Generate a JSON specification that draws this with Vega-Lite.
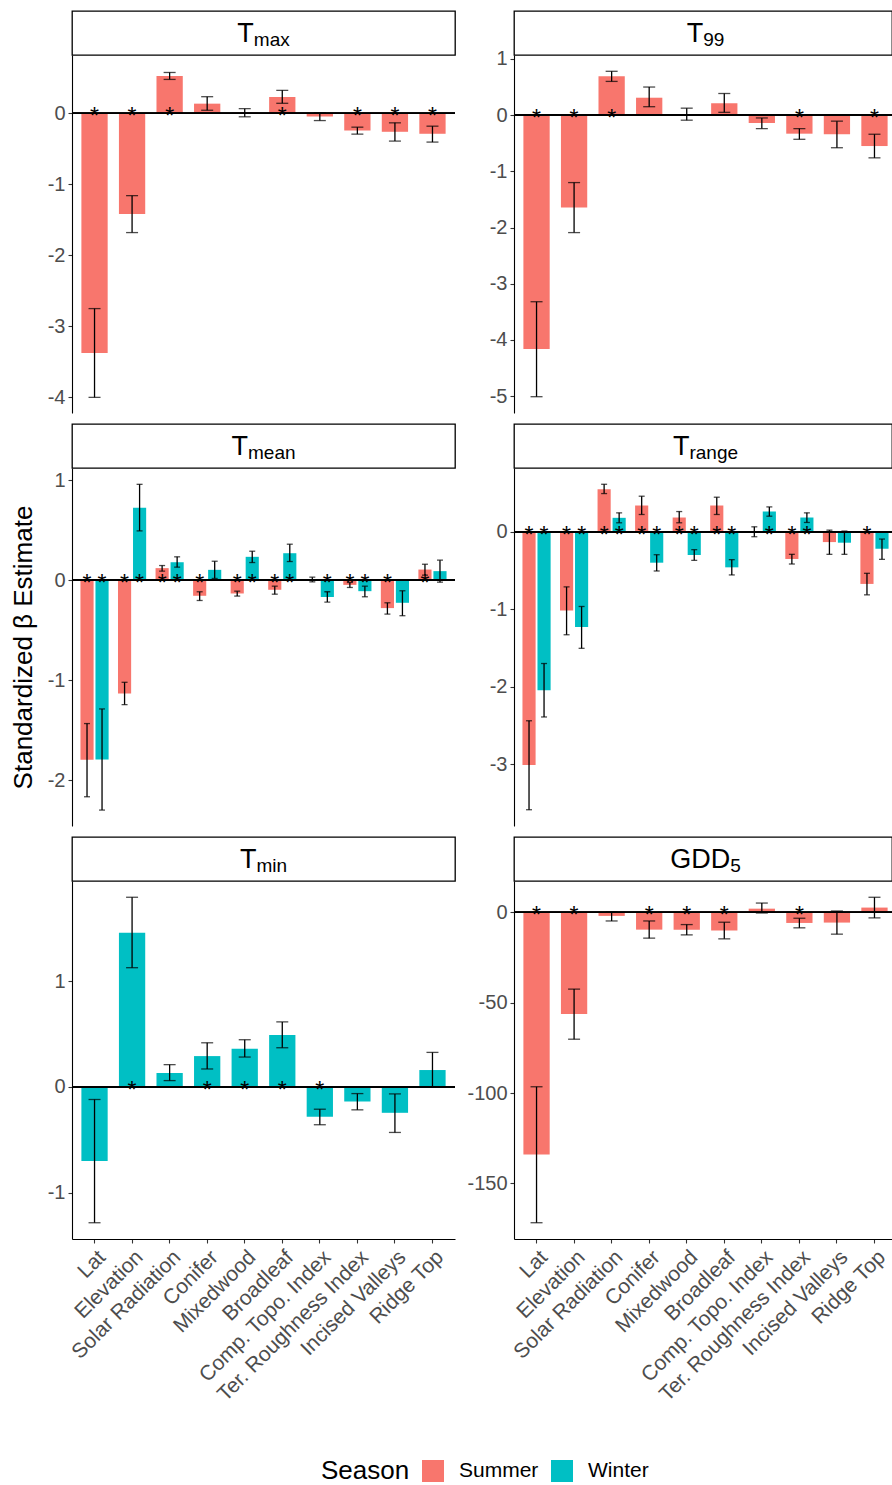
{
  "$schema": "https://vega.github.io/schema/vega-lite/v6.json",
  "background": "white",
  "padding": {"left": 10, "top": 10, "right": 0, "bottom": 2},
  "datasets": {
    "strips": [
      {"variable": "Tmax", "main": "T", "sub": "max"},
      {"variable": "T99", "main": "T", "sub": "99"},
      {"variable": "Tmean", "main": "T", "sub": "mean"},
      {"variable": "Trange", "main": "T", "sub": "range"},
      {"variable": "Tmin", "main": "T", "sub": "min"},
      {"variable": "GDD5", "main": "GDD", "sub": "5"}
    ],
    "est": [
      {"variable": "Tmax", "predictor": "Lat", "season": "Summer", "estimate": -3.375, "lower": -4.0, "upper": -2.75, "sig": "*"},
      {"variable": "Tmax", "predictor": "Elevation", "season": "Summer", "estimate": -1.42, "lower": -1.68, "upper": -1.16, "sig": "*"},
      {"variable": "Tmax", "predictor": "Solar Radiation", "season": "Summer", "estimate": 0.523, "lower": 0.476, "upper": 0.574, "sig": "*"},
      {"variable": "Tmax", "predictor": "Conifer", "season": "Summer", "estimate": 0.135, "lower": 0.042, "upper": 0.233, "sig": ""},
      {"variable": "Tmax", "predictor": "Mixedwood", "season": "Summer", "estimate": 0.01, "lower": -0.05, "upper": 0.065, "sig": ""},
      {"variable": "Tmax", "predictor": "Broadleaf", "season": "Summer", "estimate": 0.229, "lower": 0.14, "upper": 0.322, "sig": "*"},
      {"variable": "Tmax", "predictor": "Comp. Topo. Index", "season": "Summer", "estimate": -0.047, "lower": -0.103, "upper": 0.005, "sig": ""},
      {"variable": "Tmax", "predictor": "Ter. Roughness Index", "season": "Summer", "estimate": -0.243, "lower": -0.294, "upper": -0.196, "sig": "*"},
      {"variable": "Tmax", "predictor": "Incised Valleys", "season": "Summer", "estimate": -0.261, "lower": -0.392, "upper": -0.135, "sig": "*"},
      {"variable": "Tmax", "predictor": "Ridge Top", "season": "Summer", "estimate": -0.289, "lower": -0.406, "upper": -0.182, "sig": "*"},

      {"variable": "T99", "predictor": "Lat", "season": "Summer", "estimate": -4.16, "lower": -5.01, "upper": -3.32, "sig": "*"},
      {"variable": "T99", "predictor": "Elevation", "season": "Summer", "estimate": -1.645, "lower": -2.09, "upper": -1.2, "sig": "*"},
      {"variable": "T99", "predictor": "Solar Radiation", "season": "Summer", "estimate": 0.69, "lower": 0.6, "upper": 0.78, "sig": "*"},
      {"variable": "T99", "predictor": "Conifer", "season": "Summer", "estimate": 0.31, "lower": 0.15, "upper": 0.5, "sig": ""},
      {"variable": "T99", "predictor": "Mixedwood", "season": "Summer", "estimate": 0.02, "lower": -0.09, "upper": 0.124, "sig": ""},
      {"variable": "T99", "predictor": "Broadleaf", "season": "Summer", "estimate": 0.21, "lower": 0.05, "upper": 0.385, "sig": ""},
      {"variable": "T99", "predictor": "Comp. Topo. Index", "season": "Summer", "estimate": -0.14, "lower": -0.24, "upper": -0.05, "sig": ""},
      {"variable": "T99", "predictor": "Ter. Roughness Index", "season": "Summer", "estimate": -0.33, "lower": -0.43, "upper": -0.24, "sig": "*"},
      {"variable": "T99", "predictor": "Incised Valleys", "season": "Summer", "estimate": -0.34, "lower": -0.58, "upper": -0.107, "sig": ""},
      {"variable": "T99", "predictor": "Ridge Top", "season": "Summer", "estimate": -0.55, "lower": -0.76, "upper": -0.34, "sig": "*"},

      {"variable": "Tmean", "predictor": "Lat", "season": "Summer", "estimate": -1.794, "lower": -2.163, "upper": -1.432, "sig": "*"},
      {"variable": "Tmean", "predictor": "Lat", "season": "Winter", "estimate": -1.79, "lower": -2.296, "upper": -1.286, "sig": "*"},
      {"variable": "Tmean", "predictor": "Elevation", "season": "Summer", "estimate": -1.133, "lower": -1.243, "upper": -1.02, "sig": "*"},
      {"variable": "Tmean", "predictor": "Elevation", "season": "Winter", "estimate": 0.724, "lower": 0.492, "upper": 0.957, "sig": "*"},
      {"variable": "Tmean", "predictor": "Solar Radiation", "season": "Summer", "estimate": 0.12, "lower": 0.09, "upper": 0.146, "sig": "*"},
      {"variable": "Tmean", "predictor": "Solar Radiation", "season": "Winter", "estimate": 0.179, "lower": 0.13, "upper": 0.233, "sig": "*"},
      {"variable": "Tmean", "predictor": "Conifer", "season": "Summer", "estimate": -0.156, "lower": -0.203, "upper": -0.116, "sig": "*"},
      {"variable": "Tmean", "predictor": "Conifer", "season": "Winter", "estimate": 0.103, "lower": 0.017, "upper": 0.189, "sig": ""},
      {"variable": "Tmean", "predictor": "Mixedwood", "season": "Summer", "estimate": -0.133, "lower": -0.159, "upper": -0.11, "sig": "*"},
      {"variable": "Tmean", "predictor": "Mixedwood", "season": "Winter", "estimate": 0.233, "lower": 0.176, "upper": 0.289, "sig": "*"},
      {"variable": "Tmean", "predictor": "Broadleaf", "season": "Summer", "estimate": -0.096, "lower": -0.14, "upper": -0.06, "sig": "*"},
      {"variable": "Tmean", "predictor": "Broadleaf", "season": "Winter", "estimate": 0.269, "lower": 0.186, "upper": 0.359, "sig": "*"},
      {"variable": "Tmean", "predictor": "Comp. Topo. Index", "season": "Summer", "estimate": 0.007, "lower": -0.017, "upper": 0.03, "sig": ""},
      {"variable": "Tmean", "predictor": "Comp. Topo. Index", "season": "Winter", "estimate": -0.169, "lower": -0.219, "upper": -0.116, "sig": "*"},
      {"variable": "Tmean", "predictor": "Ter. Roughness Index", "season": "Summer", "estimate": -0.047, "lower": -0.073, "upper": -0.023, "sig": "*"},
      {"variable": "Tmean", "predictor": "Ter. Roughness Index", "season": "Winter", "estimate": -0.11, "lower": -0.166, "upper": -0.06, "sig": "*"},
      {"variable": "Tmean", "predictor": "Incised Valleys", "season": "Summer", "estimate": -0.279, "lower": -0.339, "upper": -0.226, "sig": "*"},
      {"variable": "Tmean", "predictor": "Incised Valleys", "season": "Winter", "estimate": -0.226, "lower": -0.355, "upper": -0.106, "sig": ""},
      {"variable": "Tmean", "predictor": "Ridge Top", "season": "Summer", "estimate": 0.106, "lower": 0.05, "upper": 0.159, "sig": "*"},
      {"variable": "Tmean", "predictor": "Ridge Top", "season": "Winter", "estimate": 0.09, "lower": -0.02, "upper": 0.2, "sig": ""},

      {"variable": "Trange", "predictor": "Lat", "season": "Summer", "estimate": -3.009, "lower": -3.587, "upper": -2.439, "sig": "*"},
      {"variable": "Trange", "predictor": "Lat", "season": "Winter", "estimate": -2.045, "lower": -2.39, "upper": -1.7, "sig": "*"},
      {"variable": "Trange", "predictor": "Elevation", "season": "Summer", "estimate": -1.016, "lower": -1.329, "upper": -0.711, "sig": "*"},
      {"variable": "Trange", "predictor": "Elevation", "season": "Winter", "estimate": -1.23, "lower": -1.504, "upper": -0.964, "sig": "*"},
      {"variable": "Trange", "predictor": "Solar Radiation", "season": "Summer", "estimate": 0.549, "lower": 0.493, "upper": 0.613, "sig": "*"},
      {"variable": "Trange", "predictor": "Solar Radiation", "season": "Winter", "estimate": 0.18, "lower": 0.116, "upper": 0.244, "sig": "*"},
      {"variable": "Trange", "predictor": "Conifer", "season": "Summer", "estimate": 0.339, "lower": 0.223, "upper": 0.459, "sig": "*"},
      {"variable": "Trange", "predictor": "Conifer", "season": "Winter", "estimate": -0.399, "lower": -0.506, "upper": -0.296, "sig": "*"},
      {"variable": "Trange", "predictor": "Mixedwood", "season": "Summer", "estimate": 0.184, "lower": 0.116, "upper": 0.261, "sig": "*"},
      {"variable": "Trange", "predictor": "Mixedwood", "season": "Winter", "estimate": -0.3, "lower": -0.369, "upper": -0.231, "sig": "*"},
      {"variable": "Trange", "predictor": "Broadleaf", "season": "Summer", "estimate": 0.339, "lower": 0.223, "upper": 0.446, "sig": "*"},
      {"variable": "Trange", "predictor": "Broadleaf", "season": "Winter", "estimate": -0.459, "lower": -0.557, "upper": -0.36, "sig": "*"},
      {"variable": "Trange", "predictor": "Comp. Topo. Index", "season": "Summer", "estimate": 0.003, "lower": -0.064, "upper": 0.064, "sig": ""},
      {"variable": "Trange", "predictor": "Comp. Topo. Index", "season": "Winter", "estimate": 0.261, "lower": 0.201, "upper": 0.321, "sig": "*"},
      {"variable": "Trange", "predictor": "Ter. Roughness Index", "season": "Summer", "estimate": -0.351, "lower": -0.416, "upper": -0.291, "sig": "*"},
      {"variable": "Trange", "predictor": "Ter. Roughness Index", "season": "Winter", "estimate": 0.184, "lower": 0.12, "upper": 0.244, "sig": "*"},
      {"variable": "Trange", "predictor": "Incised Valleys", "season": "Summer", "estimate": -0.133, "lower": -0.291, "upper": 0.021, "sig": ""},
      {"variable": "Trange", "predictor": "Incised Valleys", "season": "Winter", "estimate": -0.141, "lower": -0.291, "upper": 0.009, "sig": ""},
      {"variable": "Trange", "predictor": "Ridge Top", "season": "Summer", "estimate": -0.673, "lower": -0.814, "upper": -0.536, "sig": "*"},
      {"variable": "Trange", "predictor": "Ridge Top", "season": "Winter", "estimate": -0.219, "lower": -0.356, "upper": -0.094, "sig": ""},

      {"variable": "Tmin", "predictor": "Lat", "season": "Winter", "estimate": -0.701, "lower": -1.286, "upper": -0.119, "sig": ""},
      {"variable": "Tmin", "predictor": "Elevation", "season": "Winter", "estimate": 1.459, "lower": 1.129, "upper": 1.796, "sig": "*"},
      {"variable": "Tmin", "predictor": "Solar Radiation", "season": "Winter", "estimate": 0.132, "lower": 0.06, "upper": 0.211, "sig": ""},
      {"variable": "Tmin", "predictor": "Conifer", "season": "Winter", "estimate": 0.292, "lower": 0.17, "upper": 0.418, "sig": "*"},
      {"variable": "Tmin", "predictor": "Mixedwood", "season": "Winter", "estimate": 0.362, "lower": 0.283, "upper": 0.447, "sig": "*"},
      {"variable": "Tmin", "predictor": "Broadleaf", "season": "Winter", "estimate": 0.491, "lower": 0.371, "upper": 0.616, "sig": "*"},
      {"variable": "Tmin", "predictor": "Comp. Topo. Index", "season": "Winter", "estimate": -0.283, "lower": -0.358, "upper": -0.211, "sig": "*"},
      {"variable": "Tmin", "predictor": "Ter. Roughness Index", "season": "Winter", "estimate": -0.138, "lower": -0.217, "upper": -0.063, "sig": ""},
      {"variable": "Tmin", "predictor": "Incised Valleys", "season": "Winter", "estimate": -0.245, "lower": -0.431, "upper": -0.066, "sig": ""},
      {"variable": "Tmin", "predictor": "Ridge Top", "season": "Winter", "estimate": 0.16, "lower": 0.0, "upper": 0.327, "sig": ""},

      {"variable": "GDD5", "predictor": "Lat", "season": "Summer", "estimate": -134.0, "lower": -171.7, "upper": -96.5, "sig": "*"},
      {"variable": "GDD5", "predictor": "Elevation", "season": "Summer", "estimate": -56.25, "lower": -70.2, "upper": -42.5, "sig": "*"},
      {"variable": "GDD5", "predictor": "Solar Radiation", "season": "Summer", "estimate": -2.0, "lower": -4.8, "upper": 0.2, "sig": ""},
      {"variable": "GDD5", "predictor": "Conifer", "season": "Summer", "estimate": -9.6, "lower": -14.3, "upper": -4.8, "sig": "*"},
      {"variable": "GDD5", "predictor": "Mixedwood", "season": "Summer", "estimate": -9.6, "lower": -12.5, "upper": -6.8, "sig": "*"},
      {"variable": "GDD5", "predictor": "Broadleaf", "season": "Summer", "estimate": -10.1, "lower": -14.7, "upper": -5.5, "sig": "*"},
      {"variable": "GDD5", "predictor": "Comp. Topo. Index", "season": "Summer", "estimate": 2.0, "lower": -0.4, "upper": 5.1, "sig": ""},
      {"variable": "GDD5", "predictor": "Ter. Roughness Index", "season": "Summer", "estimate": -5.9, "lower": -8.6, "upper": -3.3, "sig": "*"},
      {"variable": "GDD5", "predictor": "Incised Valleys", "season": "Summer", "estimate": -5.7, "lower": -12.1, "upper": 0.7, "sig": ""},
      {"variable": "GDD5", "predictor": "Ridge Top", "season": "Summer", "estimate": 2.6, "lower": -3.1, "upper": 8.3, "sig": ""}
    ]
  },
  "columns": 2,
  "spacing": {"row": 10, "column": 10},
  "align": "each",
  "resolve": {"scale": {"xOffset": "independent"}},
  "concat": [
    {
      "vconcat": [
        {"width": 383, "height": 44, "view": {"stroke": "black", "strokeWidth": 1.3}, "data": {"name": "strips"}, "transform": [{"filter": "datum.variable === 'Tmax'"}],
          "layer": [
            {"mark": {"type": "text", "align": "left", "baseline": "alphabetic", "dx": -26.2, "dy": 9, "fontSize": 27, "color": "black"}, "encoding": {"text": {"field": "main"}}},
            {"mark": {"type": "text", "align": "left", "baseline": "alphabetic", "dx": -9.7, "dy": 12.5, "fontSize": 19, "color": "black"}, "encoding": {"text": {"field": "sub"}}}
          ]},
        {"width": 383, "height": 358, "data": {"name": "est"}, "transform": [{"filter": "datum.variable === 'Tmax'"}],
          "layer": [
            {"mark": {"type": "bar"}, "encoding": {
              "x": {"field": "predictor", "type": "nominal", "scale": {"domain": ["Lat","Elevation","Solar Radiation","Conifer","Mixedwood","Broadleaf","Comp. Topo. Index","Ter. Roughness Index","Incised Valleys","Ridge Top"], "paddingInner": 0.2, "paddingOuter": 0.2}, "axis": null},
              "xOffset": {"field": "season", "type": "nominal", "scale": {"paddingInner": 0.125, "paddingOuter": 0.0625}},
              "y": {"field": "estimate", "type": "quantitative", "scale": {"domain": [-4.22, 0.82], "nice": false, "zero": false}, "axis": {"values": [-4, -3, -2, -1, 0], "title": null, "labelExpr": "toString(datum.value)"}},
              "y2": {"datum": 0},
              "color": {"field": "season", "type": "nominal", "title": "Season", "scale": {"domain": ["Summer", "Winter"], "range": ["#F8766D", "#00BFC4"]}, "legend": {"orient": "none", "legendX": 249, "legendY": 1449, "direction": "horizontal", "titleOrient": "left"}}}},
            {"mark": {"type": "rule", "color": "black", "strokeWidth": 1.3}, "encoding": {"x": {"field": "predictor", "type": "nominal", "axis": null}, "xOffset": {"field": "season", "type": "nominal"}, "y": {"field": "lower", "type": "quantitative"}, "y2": {"field": "upper"}}},
            {"mark": {"type": "tick", "color": "black", "size": 12, "thickness": 1.3, "orient": "horizontal"}, "encoding": {"x": {"field": "predictor", "type": "nominal", "axis": null}, "xOffset": {"field": "season", "type": "nominal"}, "y": {"field": "lower", "type": "quantitative"}}},
            {"mark": {"type": "tick", "color": "black", "size": 12, "thickness": 1.3, "orient": "horizontal"}, "encoding": {"x": {"field": "predictor", "type": "nominal", "axis": null}, "xOffset": {"field": "season", "type": "nominal"}, "y": {"field": "upper", "type": "quantitative"}}},
            {"mark": {"type": "rule", "color": "black", "strokeWidth": 1.2}, "encoding": {"y": {"datum": 0}}},
            {"transform": [{"filter": "datum.sig === '*'"}], "mark": {"type": "text", "fontSize": 23, "baseline": "alphabetic", "dy": 11, "color": "black"}, "encoding": {"x": {"field": "predictor", "type": "nominal", "axis": null}, "xOffset": {"field": "season", "type": "nominal"}, "y": {"datum": 0}, "text": {"field": "sig"}}}
          ]}
      ],
      "spacing": 0, "bounds": "flush", "resolve": {"scale": {"xOffset": "independent"}}
    },
    {
      "vconcat": [
        {"width": 378, "height": 44, "view": {"stroke": "black", "strokeWidth": 1.3}, "data": {"name": "strips"}, "transform": [{"filter": "datum.variable === 'T99'"}],
          "layer": [
            {"mark": {"type": "text", "align": "left", "baseline": "alphabetic", "dx": -16.3, "dy": 9, "fontSize": 27, "color": "black"}, "encoding": {"text": {"field": "main"}}},
            {"mark": {"type": "text", "align": "left", "baseline": "alphabetic", "dx": 0.2, "dy": 12.5, "fontSize": 19, "color": "black"}, "encoding": {"text": {"field": "sub"}}}
          ]},
        {"width": 378, "height": 358, "data": {"name": "est"}, "transform": [{"filter": "datum.variable === 'T99'"}],
          "layer": [
            {"mark": {"type": "bar"}, "encoding": {
              "x": {"field": "predictor", "type": "nominal", "scale": {"domain": ["Lat","Elevation","Solar Radiation","Conifer","Mixedwood","Broadleaf","Comp. Topo. Index","Ter. Roughness Index","Incised Valleys","Ridge Top"], "paddingInner": 0.2, "paddingOuter": 0.1335, "align": 0.75}, "axis": null},
              "xOffset": {"field": "season", "type": "nominal", "scale": {"paddingInner": 0.125, "paddingOuter": 0.0625}},
              "y": {"field": "estimate", "type": "quantitative", "scale": {"domain": [-5.3, 1.07], "nice": false, "zero": false}, "axis": {"values": [-5, -4, -3, -2, -1, 0, 1], "title": null, "labelExpr": "toString(datum.value)"}},
              "y2": {"datum": 0},
              "color": {"field": "season", "type": "nominal", "title": "Season", "scale": {"domain": ["Summer", "Winter"], "range": ["#F8766D", "#00BFC4"]}, "legend": {"orient": "none", "legendX": 249, "legendY": 1449, "direction": "horizontal", "titleOrient": "left"}}}},
            {"mark": {"type": "rule", "color": "black", "strokeWidth": 1.3}, "encoding": {"x": {"field": "predictor", "type": "nominal", "axis": null}, "xOffset": {"field": "season", "type": "nominal"}, "y": {"field": "lower", "type": "quantitative"}, "y2": {"field": "upper"}}},
            {"mark": {"type": "tick", "color": "black", "size": 12, "thickness": 1.3, "orient": "horizontal"}, "encoding": {"x": {"field": "predictor", "type": "nominal", "axis": null}, "xOffset": {"field": "season", "type": "nominal"}, "y": {"field": "lower", "type": "quantitative"}}},
            {"mark": {"type": "tick", "color": "black", "size": 12, "thickness": 1.3, "orient": "horizontal"}, "encoding": {"x": {"field": "predictor", "type": "nominal", "axis": null}, "xOffset": {"field": "season", "type": "nominal"}, "y": {"field": "upper", "type": "quantitative"}}},
            {"mark": {"type": "rule", "color": "black", "strokeWidth": 1.2}, "encoding": {"y": {"datum": 0}}},
            {"transform": [{"filter": "datum.sig === '*'"}], "mark": {"type": "text", "fontSize": 23, "baseline": "alphabetic", "dy": 11, "color": "black"}, "encoding": {"x": {"field": "predictor", "type": "nominal", "axis": null}, "xOffset": {"field": "season", "type": "nominal"}, "y": {"datum": 0}, "text": {"field": "sig"}}}
          ]}
      ],
      "spacing": 0, "bounds": "flush", "resolve": {"scale": {"xOffset": "independent"}}
    },
    {
      "vconcat": [
        {"width": 383, "height": 44, "view": {"stroke": "black", "strokeWidth": 1.3}, "data": {"name": "strips"}, "transform": [{"filter": "datum.variable === 'Tmean'"}],
          "layer": [
            {"mark": {"type": "text", "align": "left", "baseline": "alphabetic", "dx": -32, "dy": 9, "fontSize": 27, "color": "black"}, "encoding": {"text": {"field": "main"}}},
            {"mark": {"type": "text", "align": "left", "baseline": "alphabetic", "dx": -15.5, "dy": 12.5, "fontSize": 19, "color": "black"}, "encoding": {"text": {"field": "sub"}}}
          ]},
        {"width": 383, "height": 358, "data": {"name": "est"}, "transform": [{"filter": "datum.variable === 'Tmean'"}],
          "layer": [
            {"mark": {"type": "bar"}, "encoding": {
              "x": {"field": "predictor", "type": "nominal", "scale": {"domain": ["Lat","Elevation","Solar Radiation","Conifer","Mixedwood","Broadleaf","Comp. Topo. Index","Ter. Roughness Index","Incised Valleys","Ridge Top"], "paddingInner": 0.2, "paddingOuter": 0.2}, "axis": null},
              "xOffset": {"field": "season", "type": "nominal", "scale": {"paddingInner": 0.125, "paddingOuter": 0.0625}},
              "y": {"field": "estimate", "type": "quantitative", "scale": {"domain": [-2.455, 1.12], "nice": false, "zero": false}, "axis": {"values": [-2, -1, 0, 1], "title": "Standardized β Estimate", "labelExpr": "toString(datum.value)"}},
              "y2": {"datum": 0},
              "color": {"field": "season", "type": "nominal", "title": "Season", "scale": {"domain": ["Summer", "Winter"], "range": ["#F8766D", "#00BFC4"]}, "legend": {"orient": "none", "legendX": 249, "legendY": 1449, "direction": "horizontal", "titleOrient": "left"}}}},
            {"mark": {"type": "rule", "color": "black", "strokeWidth": 1.3}, "encoding": {"x": {"field": "predictor", "type": "nominal", "axis": null}, "xOffset": {"field": "season", "type": "nominal"}, "y": {"field": "lower", "type": "quantitative"}, "y2": {"field": "upper"}}},
            {"mark": {"type": "tick", "color": "black", "size": 6, "thickness": 1.3, "orient": "horizontal"}, "encoding": {"x": {"field": "predictor", "type": "nominal", "axis": null}, "xOffset": {"field": "season", "type": "nominal"}, "y": {"field": "lower", "type": "quantitative"}}},
            {"mark": {"type": "tick", "color": "black", "size": 6, "thickness": 1.3, "orient": "horizontal"}, "encoding": {"x": {"field": "predictor", "type": "nominal", "axis": null}, "xOffset": {"field": "season", "type": "nominal"}, "y": {"field": "upper", "type": "quantitative"}}},
            {"mark": {"type": "rule", "color": "black", "strokeWidth": 1.2}, "encoding": {"y": {"datum": 0}}},
            {"transform": [{"filter": "datum.sig === '*'"}], "mark": {"type": "text", "fontSize": 23, "baseline": "alphabetic", "dy": 11, "color": "black"}, "encoding": {"x": {"field": "predictor", "type": "nominal", "axis": null}, "xOffset": {"field": "season", "type": "nominal"}, "y": {"datum": 0}, "text": {"field": "sig"}}}
          ]}
      ],
      "spacing": 0, "bounds": "flush", "resolve": {"scale": {"xOffset": "independent"}}
    },
    {
      "vconcat": [
        {"width": 378, "height": 44, "view": {"stroke": "black", "strokeWidth": 1.3}, "data": {"name": "strips"}, "transform": [{"filter": "datum.variable === 'Trange'"}],
          "layer": [
            {"mark": {"type": "text", "align": "left", "baseline": "alphabetic", "dx": -30.05, "dy": 9, "fontSize": 27, "color": "black"}, "encoding": {"text": {"field": "main"}}},
            {"mark": {"type": "text", "align": "left", "baseline": "alphabetic", "dx": -13.55, "dy": 12.5, "fontSize": 19, "color": "black"}, "encoding": {"text": {"field": "sub"}}}
          ]},
        {"width": 378, "height": 358, "data": {"name": "est"}, "transform": [{"filter": "datum.variable === 'Trange'"}],
          "layer": [
            {"mark": {"type": "bar"}, "encoding": {
              "x": {"field": "predictor", "type": "nominal", "scale": {"domain": ["Lat","Elevation","Solar Radiation","Conifer","Mixedwood","Broadleaf","Comp. Topo. Index","Ter. Roughness Index","Incised Valleys","Ridge Top"], "paddingInner": 0.2, "paddingOuter": 0.1335, "align": 0.75}, "axis": null},
              "xOffset": {"field": "season", "type": "nominal", "scale": {"paddingInner": 0.125, "paddingOuter": 0.0625}},
              "y": {"field": "estimate", "type": "quantitative", "scale": {"domain": [-3.797, 0.823], "nice": false, "zero": false}, "axis": {"values": [-3, -2, -1, 0], "title": null, "labelExpr": "toString(datum.value)"}},
              "y2": {"datum": 0},
              "color": {"field": "season", "type": "nominal", "title": "Season", "scale": {"domain": ["Summer", "Winter"], "range": ["#F8766D", "#00BFC4"]}, "legend": {"orient": "none", "legendX": 249, "legendY": 1449, "direction": "horizontal", "titleOrient": "left"}}}},
            {"mark": {"type": "rule", "color": "black", "strokeWidth": 1.3}, "encoding": {"x": {"field": "predictor", "type": "nominal", "axis": null}, "xOffset": {"field": "season", "type": "nominal"}, "y": {"field": "lower", "type": "quantitative"}, "y2": {"field": "upper"}}},
            {"mark": {"type": "tick", "color": "black", "size": 6, "thickness": 1.3, "orient": "horizontal"}, "encoding": {"x": {"field": "predictor", "type": "nominal", "axis": null}, "xOffset": {"field": "season", "type": "nominal"}, "y": {"field": "lower", "type": "quantitative"}}},
            {"mark": {"type": "tick", "color": "black", "size": 6, "thickness": 1.3, "orient": "horizontal"}, "encoding": {"x": {"field": "predictor", "type": "nominal", "axis": null}, "xOffset": {"field": "season", "type": "nominal"}, "y": {"field": "upper", "type": "quantitative"}}},
            {"mark": {"type": "rule", "color": "black", "strokeWidth": 1.2}, "encoding": {"y": {"datum": 0}}},
            {"transform": [{"filter": "datum.sig === '*'"}], "mark": {"type": "text", "fontSize": 23, "baseline": "alphabetic", "dy": 11, "color": "black"}, "encoding": {"x": {"field": "predictor", "type": "nominal", "axis": null}, "xOffset": {"field": "season", "type": "nominal"}, "y": {"datum": 0}, "text": {"field": "sig"}}}
          ]}
      ],
      "spacing": 0, "bounds": "flush", "resolve": {"scale": {"xOffset": "independent"}}
    },
    {
      "vconcat": [
        {"width": 383, "height": 44, "view": {"stroke": "black", "strokeWidth": 1.3}, "data": {"name": "strips"}, "transform": [{"filter": "datum.variable === 'Tmin'"}],
          "layer": [
            {"mark": {"type": "text", "align": "left", "baseline": "alphabetic", "dx": -23.55, "dy": 9, "fontSize": 27, "color": "black"}, "encoding": {"text": {"field": "main"}}},
            {"mark": {"type": "text", "align": "left", "baseline": "alphabetic", "dx": -7.05, "dy": 12.5, "fontSize": 19, "color": "black"}, "encoding": {"text": {"field": "sub"}}}
          ]},
        {"width": 383, "height": 358, "data": {"name": "est"}, "transform": [{"filter": "datum.variable === 'Tmin'"}],
          "layer": [
            {"mark": {"type": "bar"}, "encoding": {
              "x": {"field": "predictor", "type": "nominal", "scale": {"domain": ["Lat","Elevation","Solar Radiation","Conifer","Mixedwood","Broadleaf","Comp. Topo. Index","Ter. Roughness Index","Incised Valleys","Ridge Top"], "paddingInner": 0.2, "paddingOuter": 0.2}, "axis": {"title": null}},
              "xOffset": {"field": "season", "type": "nominal", "scale": {"paddingInner": 0.125, "paddingOuter": 0.0625}},
              "y": {"field": "estimate", "type": "quantitative", "scale": {"domain": [-1.44, 1.95], "nice": false, "zero": false}, "axis": {"values": [-1, 0, 1], "title": null, "labelExpr": "toString(datum.value)"}},
              "y2": {"datum": 0},
              "color": {"field": "season", "type": "nominal", "title": "Season", "scale": {"domain": ["Summer", "Winter"], "range": ["#F8766D", "#00BFC4"]}, "legend": {"orient": "none", "legendX": 249, "legendY": 1449, "direction": "horizontal", "titleOrient": "left"}}}},
            {"mark": {"type": "rule", "color": "black", "strokeWidth": 1.3}, "encoding": {"x": {"field": "predictor", "type": "nominal"}, "xOffset": {"field": "season", "type": "nominal"}, "y": {"field": "lower", "type": "quantitative"}, "y2": {"field": "upper"}}},
            {"mark": {"type": "tick", "color": "black", "size": 12, "thickness": 1.3, "orient": "horizontal"}, "encoding": {"x": {"field": "predictor", "type": "nominal"}, "xOffset": {"field": "season", "type": "nominal"}, "y": {"field": "lower", "type": "quantitative"}}},
            {"mark": {"type": "tick", "color": "black", "size": 12, "thickness": 1.3, "orient": "horizontal"}, "encoding": {"x": {"field": "predictor", "type": "nominal"}, "xOffset": {"field": "season", "type": "nominal"}, "y": {"field": "upper", "type": "quantitative"}}},
            {"mark": {"type": "rule", "color": "black", "strokeWidth": 1.2}, "encoding": {"y": {"datum": 0}}},
            {"transform": [{"filter": "datum.sig === '*'"}], "mark": {"type": "text", "fontSize": 23, "baseline": "alphabetic", "dy": 11, "color": "black"}, "encoding": {"x": {"field": "predictor", "type": "nominal"}, "xOffset": {"field": "season", "type": "nominal"}, "y": {"datum": 0}, "text": {"field": "sig"}}}
          ]}
      ],
      "spacing": 0, "bounds": "flush", "resolve": {"scale": {"xOffset": "independent"}}
    },
    {
      "vconcat": [
        {"width": 378, "height": 44, "view": {"stroke": "black", "strokeWidth": 1.3}, "data": {"name": "strips"}, "transform": [{"filter": "datum.variable === 'GDD5'"}],
          "layer": [
            {"mark": {"type": "text", "align": "left", "baseline": "alphabetic", "dx": -32.8, "dy": 9, "fontSize": 27, "color": "black"}, "encoding": {"text": {"field": "main"}}},
            {"mark": {"type": "text", "align": "left", "baseline": "alphabetic", "dx": 27.2, "dy": 12.5, "fontSize": 19, "color": "black"}, "encoding": {"text": {"field": "sub"}}}
          ]},
        {"width": 378, "height": 358, "data": {"name": "est"}, "transform": [{"filter": "datum.variable === 'GDD5'"}],
          "layer": [
            {"mark": {"type": "bar"}, "encoding": {
              "x": {"field": "predictor", "type": "nominal", "scale": {"domain": ["Lat","Elevation","Solar Radiation","Conifer","Mixedwood","Broadleaf","Comp. Topo. Index","Ter. Roughness Index","Incised Valleys","Ridge Top"], "paddingInner": 0.2, "paddingOuter": 0.1335, "align": 0.75}, "axis": {"title": null}},
              "xOffset": {"field": "season", "type": "nominal", "scale": {"paddingInner": 0.125, "paddingOuter": 0.0625}},
              "y": {"field": "estimate", "type": "quantitative", "scale": {"domain": [-180.7, 17.3], "nice": false, "zero": false}, "axis": {"values": [-150, -100, -50, 0], "title": null, "labelExpr": "toString(datum.value)"}},
              "y2": {"datum": 0},
              "color": {"field": "season", "type": "nominal", "title": "Season", "scale": {"domain": ["Summer", "Winter"], "range": ["#F8766D", "#00BFC4"]}, "legend": {"orient": "none", "legendX": 249, "legendY": 1449, "direction": "horizontal", "titleOrient": "left"}}}},
            {"mark": {"type": "rule", "color": "black", "strokeWidth": 1.3}, "encoding": {"x": {"field": "predictor", "type": "nominal"}, "xOffset": {"field": "season", "type": "nominal"}, "y": {"field": "lower", "type": "quantitative"}, "y2": {"field": "upper"}}},
            {"mark": {"type": "tick", "color": "black", "size": 12, "thickness": 1.3, "orient": "horizontal"}, "encoding": {"x": {"field": "predictor", "type": "nominal"}, "xOffset": {"field": "season", "type": "nominal"}, "y": {"field": "lower", "type": "quantitative"}}},
            {"mark": {"type": "tick", "color": "black", "size": 12, "thickness": 1.3, "orient": "horizontal"}, "encoding": {"x": {"field": "predictor", "type": "nominal"}, "xOffset": {"field": "season", "type": "nominal"}, "y": {"field": "upper", "type": "quantitative"}}},
            {"mark": {"type": "rule", "color": "black", "strokeWidth": 1.2}, "encoding": {"y": {"datum": 0}}},
            {"transform": [{"filter": "datum.sig === '*'"}], "mark": {"type": "text", "fontSize": 23, "baseline": "alphabetic", "dy": 11, "color": "black"}, "encoding": {"x": {"field": "predictor", "type": "nominal"}, "xOffset": {"field": "season", "type": "nominal"}, "y": {"datum": 0}, "text": {"field": "sig"}}}
          ]}
      ],
      "spacing": 0, "bounds": "flush", "resolve": {"scale": {"xOffset": "independent"}}
    }
  ],
  "config": {
    "font": "Liberation Sans",
    "view": {"stroke": null},
    "axis": {
      "domainColor": "black", "domainWidth": 1.1, "tickColor": "#333333", "tickSize": 4, "tickWidth": 1.1,
      "labelFont": "Liberation Sans", "labelFontSize": 20, "labelColor": "#4D4D4D", "labelPadding": 3,
      "labelOverlap": false, "labelFlush": false, "labelLimit": 0, "grid": false,
      "titleFont": "Liberation Sans", "titleFontSize": 26, "titleFontWeight": "normal", "titleColor": "black", "titlePadding": 11
    },
    "axisX": {"labelAngle": -45, "labelAlign": "right", "labelBaseline": "top", "labelFontSize": 21},
    "axisY": {"minExtent": 0},
    "legend": {
      "titleFont": "Liberation Sans", "titleFontSize": 26, "titleFontWeight": "normal", "titleColor": "black", "titlePadding": 12,
      "labelFont": "Liberation Sans", "labelFontSize": 21, "labelColor": "black", "labelOffset": 15,
      "symbolType": "square", "symbolSize": 484, "symbolStrokeWidth": 0, "symbolOpacity": 1, "columnPadding": 12, "padding": 0
    }
  }
}
